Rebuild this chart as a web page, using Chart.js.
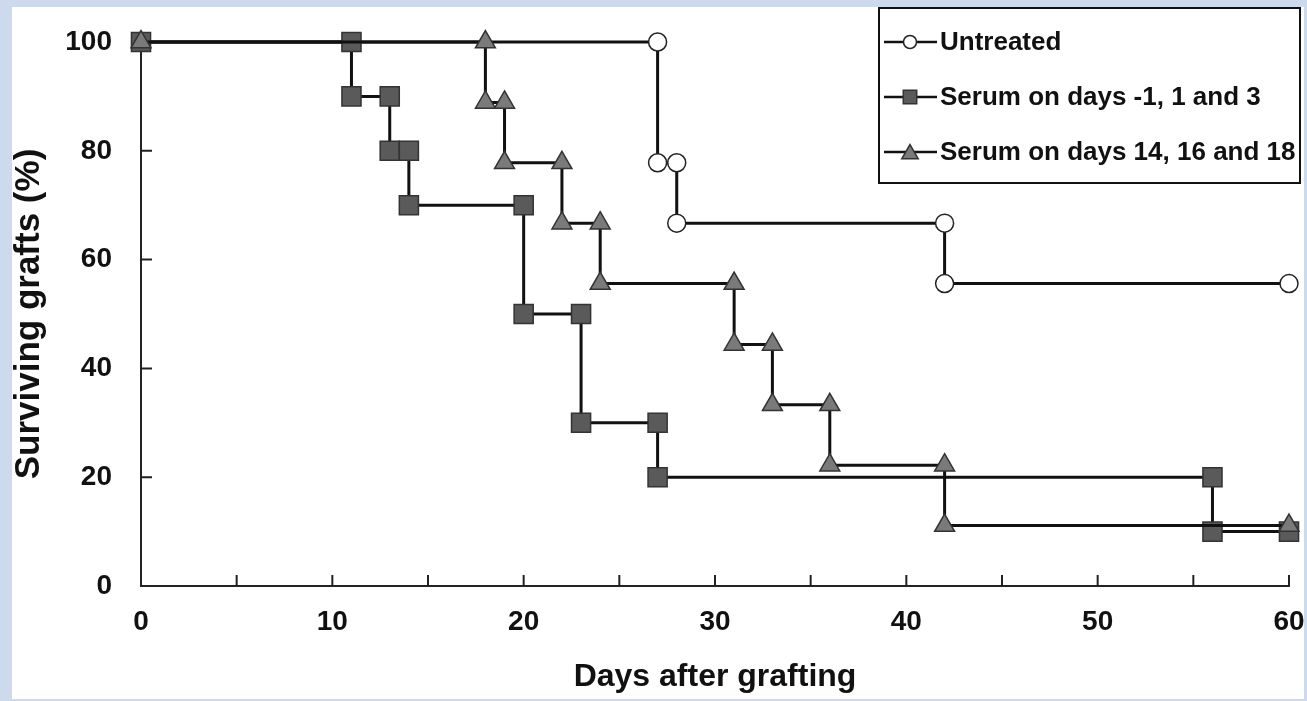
<!DOCTYPE html>
<html>
<head>
<meta charset="utf-8">
<script src="https://cdn.jsdelivr.net/npm/chart.js@4.4.0/dist/chart.umd.min.js"></script>
<style>
  body { margin: 0; background: #cdd9ec; }
  #wrap { position: absolute; left: 12px; top: 7px; width: 1292px; height: 692px; background: #fff; }
</style>
</head>
<body>
<div id="wrap"><canvas id="myChart" width="1292" height="692"></canvas></div>
<script>
// Kaplan-Meier step corners
const untreatedDays = [0, 27, 27, 28, 28, 42, 42, 60];
const untreatedSurv = [100, 100, 77.8, 77.8, 66.7, 66.7, 55.6, 55.6];

const earlyDays = [0, 11, 11, 13, 13, 14, 14, 20, 20, 23, 23, 27, 27, 56, 56, 60];
const earlySurv = [100, 100, 90, 90, 80, 80, 70, 70, 50, 50, 30, 30, 20, 20, 10, 10];

const lateDays = [0, 18, 18, 19, 19, 22, 22, 24, 24, 31, 31, 33, 33, 36, 36, 42, 42, 60];
const lateSurv = [100, 100, 88.9, 88.9, 77.8, 77.8, 66.7, 66.7, 55.6, 55.6, 44.4, 44.4, 33.3, 33.3, 22.2, 22.2, 11.1, 11.1];

const seriesLabels = ['Untreated', 'Serum on days -1, 1 and 3', 'Serum on days 14, 16 and 18'];

const toPoints = (days, surv) => days.map((d, i) => ({x: d, y: surv[i]}));

const legendMarker = [
    {style: 'circle', r: 6.5},
    {style: 'rect', r: 9.5},
    {style: 'triangle', r: 9.5}
];

const FONT = '"Liberation Sans", Arial, sans-serif';

const noScalePad = (scale) => {
    scale.paddingLeft = 0;
    scale.paddingRight = 0;
    scale.paddingTop = 0;
    scale.paddingBottom = 0;
};

const insideTicks = {
    id: 'inside_ticks',
    beforeDatasetsDraw: (chart) => {
        const ctx = chart.ctx;
        const xs = chart.scales.x, ys = chart.scales.y;
        const area = chart.chartArea;
        ctx.save();
        ctx.strokeStyle = '#222';
        ctx.lineWidth = 2;
        ctx.beginPath();
        xs.ticks.forEach(t => {
            const px = xs.getPixelForValue(t.value);
            ctx.moveTo(px, area.bottom);
            ctx.lineTo(px, area.bottom - 11);
        });
        ys.ticks.forEach(t => {
            const py = ys.getPixelForValue(t.value);
            ctx.moveTo(area.left, py);
            ctx.lineTo(area.left + 11, py);
        });
        ctx.stroke();
        ctx.restore();
    }
};

const boxLegend = {
    id: 'box_legend',
    afterDraw: (chart) => {
        const ctx = chart.ctx;
        ctx.save();
        ctx.strokeStyle = '#111';
        ctx.lineWidth = 2;
        ctx.strokeRect(867, 1, 421, 175);
        const rows = [35, 90, 145];
        chart.data.datasets.forEach((ds, i) => {
            const y = rows[i];
            ctx.strokeStyle = '#111';
            ctx.lineWidth = 2.5;
            ctx.beginPath();
            ctx.moveTo(872, y);
            ctx.lineTo(925, y);
            ctx.stroke();
            ctx.fillStyle = ds.pointBackgroundColor;
            ctx.strokeStyle = ds.pointBorderColor;
            ctx.lineWidth = 1.5;
            Chart.helpers.drawPoint(ctx, {pointStyle: legendMarker[i].style, radius: legendMarker[i].r, rotation: 0, borderWidth: 1.5}, 898, legendMarker[i].style === 'triangle' ? y + 2 : y);
            ctx.fillStyle = '#111';
            ctx.font = 'bold 26px ' + FONT;
            ctx.textBaseline = 'middle';
            ctx.textAlign = 'left';
            ctx.fillText(ds.label, 928, y + 1);
        });
        ctx.restore();
    }
};

const ctx = document.getElementById('myChart').getContext('2d');

const myChart = new Chart(ctx, {
    type: 'line',
    plugins: [insideTicks, boxLegend],
    data: {
        datasets: [{
            label: seriesLabels[0],
            data: toPoints(untreatedDays, untreatedSurv),
            borderColor: '#111',
            borderWidth: 3,
            pointStyle: 'circle',
            pointRadius: 9,
            pointBackgroundColor: '#ffffff',
            pointBorderColor: '#222',
            pointBorderWidth: 1.5,
            clip: false,
            order: 2
        }, {
            label: seriesLabels[1],
            data: toPoints(earlyDays, earlySurv),
            borderColor: '#111',
            borderWidth: 3,
            pointStyle: 'rect',
            pointRadius: 13.5,
            pointBackgroundColor: '#5a5a5a',
            pointBorderColor: '#333',
            pointBorderWidth: 1.5,
            clip: false,
            order: 1
        }, {
            label: seriesLabels[2],
            data: toPoints(lateDays, lateSurv),
            borderColor: '#111',
            borderWidth: 3,
            pointStyle: 'triangle',
            pointRadius: 11.5,
            pointBackgroundColor: '#7a7a7a',
            pointBorderColor: '#333',
            pointBorderWidth: 1.5,
            clip: false,
            order: 0
        }]
    },
    options: {
        responsive: false,
        animation: false,
        devicePixelRatio: 1,
        layout: { padding: { top: 35, right: 15, left: 0, bottom: 0 } },
        plugins: { legend: { display: false }, tooltip: { enabled: false } },
        elements: { line: { tension: 0 } },
        scales: {
            x: {
                type: 'linear',
                min: 0,
                max: 60,
                afterFit: (scale) => { scale.height = 113; noScalePad(scale); },
                grid: { display: false, drawTicks: false },
                border: { display: true, color: '#222', width: 2 },
                ticks: {
                    stepSize: 5,
                    autoSkip: false,
                    maxRotation: 0,
                    padding: 19,
                    color: '#111',
                    font: { family: FONT, size: 28, weight: 'bold' },
                    callback: (v) => (v % 10 === 0 ? v : '')
                },
                title: {
                    display: true,
                    text: 'Days after grafting',
                    color: '#111',
                    padding: { top: 0, bottom: 3 },
                    font: { family: FONT, size: 32, weight: 'bold' }
                }
            },
            y: {
                min: 0,
                max: 100,
                afterFit: (scale) => { scale.width = 129; noScalePad(scale); },
                grid: { display: false, drawTicks: false },
                border: { display: true, color: '#222', width: 2 },
                ticks: {
                    stepSize: 20,
                    padding: 29,
                    color: '#111',
                    font: { family: FONT, size: 28, weight: 'bold' }
                },
                title: {
                    display: true,
                    text: 'Surviving grafts (%)',
                    color: '#111',
                    padding: { top: 0, bottom: 0 },
                    font: { family: FONT, size: 35, weight: 'bold', lineHeight: 1 }
                }
            }
        }
    }
});
</script>
</body>
</html>
